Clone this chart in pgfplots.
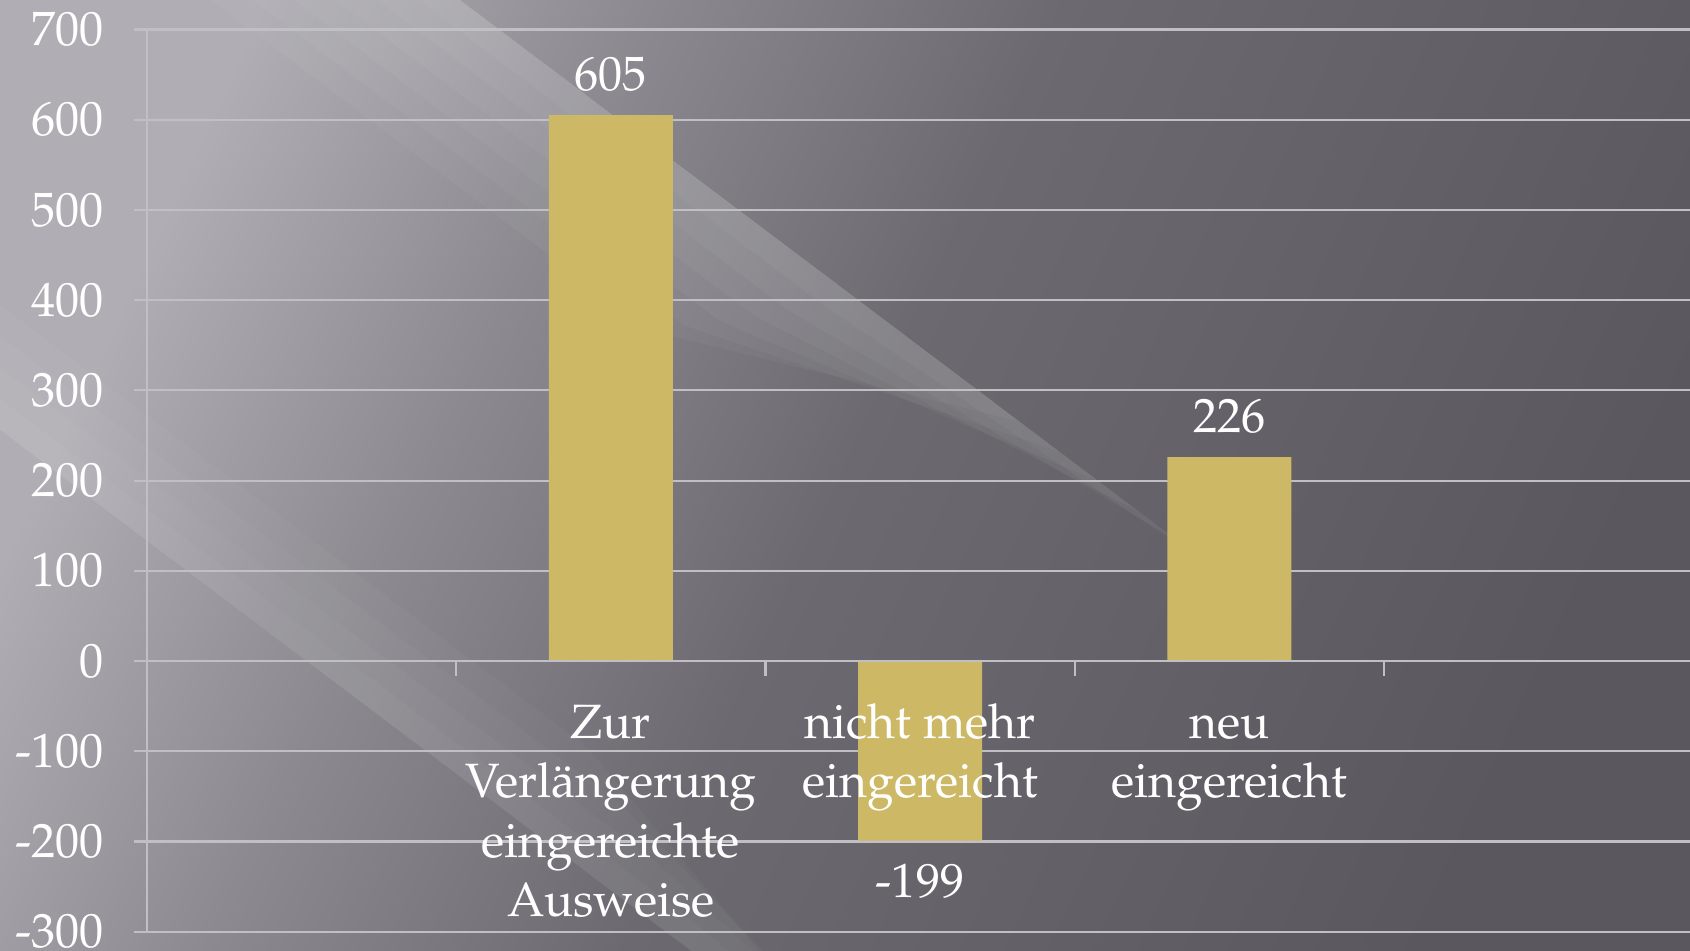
\documentclass[border=0pt]{standalone}
\usepackage[T1]{fontenc}
\usepackage{mathpazo}
\usepackage{pgfplots}
\pgfplotsset{compat=1.18}

\definecolor{barc}{RGB}{205,185,101}
\definecolor{gridc}{RGB}{192,191,195}
\definecolor{bgA}{RGB}{176,174,180}
\definecolor{bgB}{RGB}{140,138,144}
\definecolor{bgC}{RGB}{108,106,112}
\definecolor{bgD}{RGB}{90,88,94}
\pgfdeclarehorizontalshading{bgshade}{100bp}{color(0bp)=(bgA); color(25bp)=(bgA); color(37bp)=(bgB); color(50bp)=(bgC); color(75bp)=(bgD); color(100bp)=(bgD)}

% own layer for the page background, below the grid
\pgfdeclarelayer{bgpic}
\pgfsetlayers{bgpic,main}
\pgfplotsset{
  layers/barsbelowlabels/.define layer set={
    bgpic,axis background,axis grid,pre main,main,axis ticks,axis lines,axis tick labels,axis descriptions,axis foreground
  }{
    grid style={/pgfplots/on layer=axis grid},
    tick style={/pgfplots/on layer=axis ticks},
    axis line style={/pgfplots/on layer=axis lines},
    label style={/pgfplots/on layer=axis descriptions},
    ticklabel style={/pgfplots/on layer=axis tick labels},
  },
}

\newcommand{\lblfont}{\fontsize{13.7}{16.9}\selectfont}

\begin{document}
\begin{tikzpicture}
\begin{pgfonlayer}{bgpic}
\shade[shading=bgshade, shading angle=-25] (0,0) rectangle (16.9,9.5);
% bright diagonal sheen from the top, sharp upper edge, tapering ends
\begin{scope}[shift={(4.6,9.5)}, rotate=-37]
  \foreach \w/\l in {0.25/9.5,0.5/9,0.75/8.5,1.0/8,1.25/7.5,1.5/7} {
    \fill[white, opacity=0.035] (-3,0) -- (\l,0) -- ({0.5*\l},-\w) -- (-3,-\w) -- cycle;
  }
\end{scope}
% softer band on the left
\begin{scope}[shift={(0,5.2)}, rotate=-37]
  \foreach \w/\l in {0.25/14,0.5/13,0.75/12,1.0/11} {
    \fill[white, opacity=0.028] (-3,0) -- (\l,0) -- ({0.6*\l},\w) -- (-3,\w) -- cycle;
  }
\end{scope}
\end{pgfonlayer}

\begin{axis}[
  set layers=barsbelowlabels,
  at={(1.47cm,0.183cm)}, anchor=south west,
  width=15.43cm, height=9.022cm, scale only axis,
  ybar, bar width=12.4mm,
  xmin=-0.5, xmax=4.49, ymin=-300, ymax=700,
  ytick={-300,-200,...,700},
  xtick={1,2,3},
  xticklabels={{\strut Zur\\Verl\"angerung\\eingereichte\\Ausweise},{\strut nicht mehr\\eingereicht},{\strut neu\\eingereicht}},
  minor xtick={0.5,1.5,2.5,3.5},
  axis x line=middle, axis y line=left,
  hide obscured x ticks=false, hide obscured y ticks=false,
  axis line style={gridc, line width=0.6pt, -},
  ymajorgrids, grid style={gridc, line width=0.6pt},
  tick align=outside,
  major tick length=1.3mm, minor tick length=1.5mm,
  tick style={gridc, line width=0.6pt},
  major x tick style={draw=none},
  /pgf/number format/assume math mode=true,
  yticklabel style={font=\lblfont, text=white, xshift=-5pt},
  xticklabel style={font=\lblfont, text=white, align=center, yshift=-3pt},
  nodes near coords,
  every node near coord/.append style={font=\lblfont, text=white, inner sep=6.5pt},
]
\addplot[fill=barc, draw=none] coordinates {(1,605) (2,-199) (3,226)};
\end{axis}
\pgfresetboundingbox
\useasboundingbox (0,0) rectangle (16.9,9.5);
\end{tikzpicture}
\end{document}
